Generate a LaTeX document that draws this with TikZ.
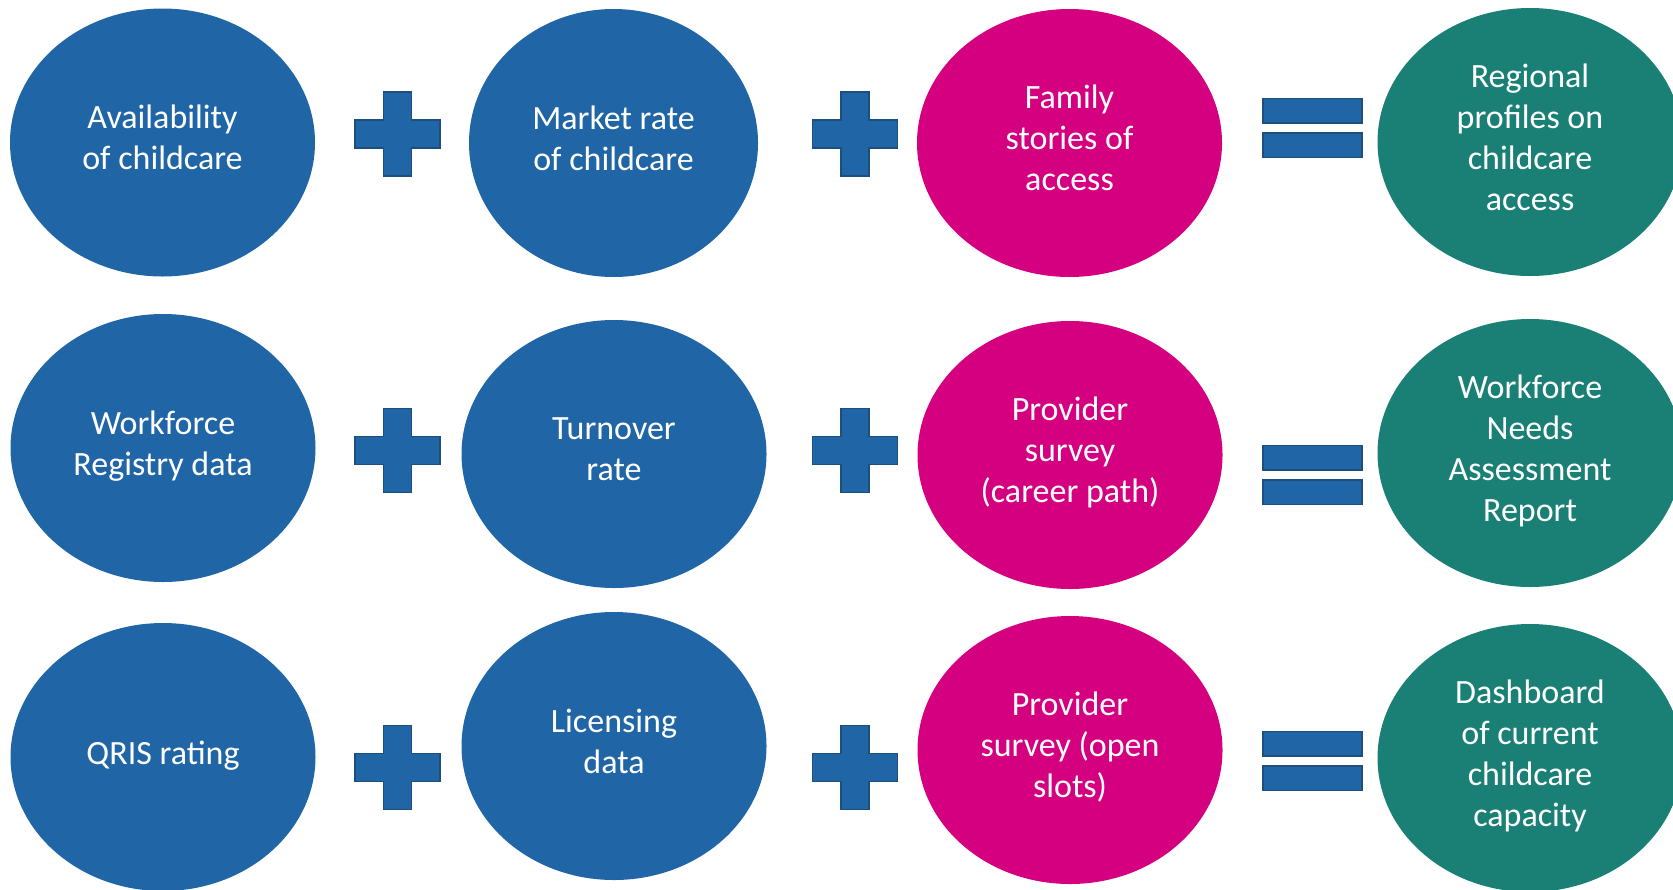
\documentclass[tikz,border=0pt]{standalone}
\usepackage{fontspec}
\setmainfont{Carlito}
\usetikzlibrary{shapes.geometric}
\definecolor{cblue}{RGB}{32,101,165}
\definecolor{cpink}{RGB}{212,0,128}
\definecolor{cteal}{RGB}{26,128,118}
\definecolor{cedge}{RGB}{30,78,125}
\begin{document}
\begin{tikzpicture}[x=0.5pt,y=-0.5pt,
  oval/.style={ellipse, minimum width=152.5pt, minimum height=134pt, inner sep=0pt,
    text=white, align=center, font=\fontsize{17}{20.5}\selectfont,
    execute at begin node={\rule{0pt}{12.5pt}},
    execute at end node={\rule[-5pt]{0pt}{0pt}}},
  bluev/.style={oval, fill=cblue},
  pinkv/.style={oval, fill=cpink},
  tealv/.style={oval, fill=cteal},
  symb/.style={fill=cblue, draw=cedge, line width=0.8pt},
  plussign/.pic={\draw[symb] (-14,-42)--(14,-42)--(14,-14)--(42.5,-14)--(42.5,14)--(14,14)--(14,42)--(-14,42)--(-14,14)--(-42.5,14)--(-42.5,-14)--(-14,-14)--cycle;},
  eqsign/.pic={\draw[symb] (-49.5,-29.5) rectangle (49.5,-5);
               \draw[symb] (-49.5,5) rectangle (49.5,29.5);}]
\useasboundingbox (0,0) rectangle (1673,889);
\clip (0,0) rectangle (1673,889);

% Row 1
\node[bluev] (a1) at (162.5,142.5) {Availability\\of childcare};
\node[bluev, minimum width=144.5pt] (b1) at (613.5,143) {Market rate\\of childcare};
\node[pinkv] (c1) at (1069.5,143) {Family\\stories of\\access};
\node[tealv] (d1) at (1530,142) {Regional\\profiles on\\childcare\\access};
\pic at (397.5,134) {plussign};
\pic at (855,134) {plussign};
\pic at (1312.5,128) {eqsign};

% Row 2
\node[bluev] (a2) at (163,448) {Workforce\\Registry data};
\node[bluev] (b2) at (614,454) {Turnover\\rate};
\node[pinkv] (c2) at (1070,455) {Provider\\survey\\(career path)};
\node[tealv] (d2) at (1530,453) {Workforce\\Needs\\Assessment\\Report};
\pic at (397.5,450.5) {plussign};
\pic at (855,450.5) {plussign};
\pic at (1312.5,475) {eqsign};

% Row 3
\node[bluev] (a3) at (163,757) {QRIS rating};
\node[bluev] (b3) at (614,746) {Licensing\\data};
\node[pinkv] (c3) at (1070,750) {Provider\\survey (open\\slots)};
\node[tealv] (d3) at (1530,758) {Dashboard\\of current\\childcare\\capacity};
\pic at (397.5,767.5) {plussign};
\pic at (855,767.5) {plussign};
\pic at (1312.5,761) {eqsign};
\end{tikzpicture}
\end{document}
